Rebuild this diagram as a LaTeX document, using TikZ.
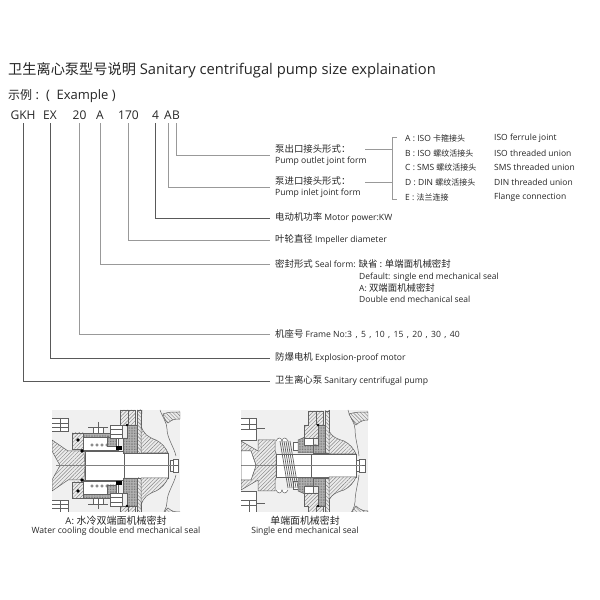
\documentclass[tikz,border=0pt]{standalone}
\usepackage{fontspec}
\setmainfont{Open Sans}
\newfontfamily\cjk{Noto Sans CJK SC}
\newcommand{\zh}[2][9.4]{{\fontsize{#1}{#1}\cjk #2}}
\usetikzlibrary{patterns.meta}
\definecolor{lnA}{gray}{0.35}
\definecolor{lnB}{gray}{0.6}
\definecolor{txt}{gray}{0.15}
\tikzset{
 x=1pt,y=1pt,
 codetok/.style={inner sep=0pt,text=txt,font=\fontsize{12}{12}\selectfont,anchor=base,text height=8pt,text depth=0pt},
 lbl/.style={inner sep=0pt,anchor=west,text=txt,align=left,font=\fontsize{8.6}{10.5}\selectfont},
 opt/.style={inner sep=0pt,anchor=west,text=txt,font=\fontsize{8.5}{8.5}\selectfont},
 lead/.style={draw=lnB,line width=0.7pt,shorten >=5pt},
 leadk/.style={draw=lnA,line width=0.7pt,shorten >=5pt},
 brk/.style={draw=lnB,line width=0.6pt},
 part/.style={draw=black!62,line width=0.5pt},
 hat/.style={part,preaction={fill=black!8},pattern={Lines[angle=45,distance=2.6pt,line width=.4pt]},pattern color=black!50},
 hatb/.style={part,preaction={fill=black!8},pattern={Lines[angle=-45,distance=2.6pt,line width=.4pt]},pattern color=black!50},
 dotted part/.style={part,preaction={fill=black!30},pattern={Dots[distance=1.6pt,radius=.35pt]},pattern color=black!70},
 panel/.style={fill=black!6,draw=none},
 captxt/.style={inner sep=0pt,text=txt,font=\fontsize{8.6}{9}\selectfont},
 axis line/.style={draw=black!50,line width=.4pt},
 topview/.style={yshift=600pt,yscale=-1},
 botview/.style={yshift=-331pt},
}
% upper half of seal A, in image coordinates (y measured downwards)
\newcommand{\halfA}{
 \draw[part,fill=white] (52,418) -- (68,418) -- (68,431) -- (52,431);
 \draw[part,line width=.9pt] (52,423)--(68,423) (52,427)--(68,427);
 \draw[part] (60,418)--(60,431);
 \draw[hat] (52,440) -- (68,451) -- (84,451) -- (85,465.5) -- (60,465.5) -- (52,451) --cycle;
 \draw[part,fill=white] (85,451) rectangle (124,465.5);
 \draw[part,fill=white] (124,453) rectangle (168,465.5);
 \draw[part,line width=.9pt] (82,451) -- (118,451);
 \draw[dotted part] (72,433) rectangle (118,437);
 \draw[part,fill=white] (83,437) rectangle (118,450);
 \draw[hat] (72,433) rectangle (83,449);
 \foreach \i in {0,1,2,3} \draw[part,fill=white] (\i*5+92,445) circle (1.3);
 \fill[black] (78,440) circle (1.8) (82,451) circle (1.8);
 \draw[dotted part] (107,437) rectangle (116,446);
 \fill[black] (116,446) rectangle (122,450);
 \draw[part,fill=white] (93,427) rectangle (103,433);
 \draw[part] (88,427)--(108,427) (98,422)--(98,433);
 \draw[part,fill=white] (110,425) rectangle (122,438);
 \draw[part,line width=.8pt] (110,429)--(122,429) (110,434)--(122,434);
 \draw[hat] (120,410) -- (120,425) -- (127,425) -- (127,445) -- (135,445) -- (135,410) --cycle;
 \draw[part] (128,410) -- (128,425);
 \draw[dotted part] (123,438) -- (127,438) -- (127,425) -- (137,425) -- (137,453) -- (123,453) --cycle;
 \draw[hatb] (137,410) rectangle (141,453);
 \draw[hat] (141,425) .. controls (143,434) and (148,437) .. (156,440) .. controls (162,443) and (166,448) .. (168,453) -- (141,453) --cycle;
 \draw[part] (142,410) -- (141,425);
 \fill[black] (127,425) circle (1.4);
 \draw[part] (160,410) .. controls (163,418) and (167,423) .. (167,429) .. controls (167,438) and (174,447) .. (176,456);
 \draw[hatb] (180,412) .. controls (172,412) and (168,412) .. (163,414) .. controls (164,418) and (166,422) .. (168,423) .. controls (172,419) and (176,419) .. (180,419) --cycle;
 \draw[part,fill=white] (170,460) rectangle (173,465.5);
 \draw[part,fill=white] (173,459) rectangle (178,465.5);
 \draw[axis line] (56,465.5) -- (174,465.5);
}
% upper half of seal B
\newcommand{\halfB}{
 \draw[part,fill=white] (241,418) -- (256,418) -- (256,440) -- (241,440);
 \draw[part,line width=1pt] (241,430)--(256,430) (241,425)--(256,425);
 \draw[part] (249,418)--(249,430) (256,428)--(265,428);
 \draw[hat] (241,441) -- (258,451) -- (258,440) -- (275,440) -- (275,451) -- (276,453) -- (276,465.5) -- (256,465.5) -- (251,451) -- (241,451) --cycle;
 \draw[part,fill=white] (241,451) -- (251,451) -- (256,465.5) -- (241,465.5) --cycle;
 \draw[part,fill=white] (276,454) rectangle (311,465.5);
 \draw[part,fill=white] (311,454) rectangle (356,465.5);
 \draw[part,fill=white] (276,441) .. controls (278,437) and (281,437) .. (282,441) .. controls (283,437) and (286,437) .. (288,441);
 \draw[part,fill=white] (293,442) rectangle (298,450);
 \draw[dotted part] (298,440) -- (305,437) -- (305,445) -- (316,445) -- (316,453) -- (298,453) --cycle;
 \draw[part,fill=white] (304,438) rectangle (313,445);
 \draw[hat] (308,411) -- (308,425) -- (304,425) -- (304,438) -- (318,438) -- (318,425) -- (323,425) -- (323,411) --cycle;
 \draw[part] (316,411)--(316,425);
 \draw[dotted part] (318,425) -- (325,425) -- (325,453) -- (313,453) -- (313,445) -- (318,445) --cycle;
 \draw[hatb] (325,411) rectangle (329,453);
 \draw[hat] (329,431) .. controls (332,437) and (337,439) .. (344,441) .. controls (350,444) and (354,449) .. (356,454) -- (329,454) --cycle;
 \draw[part] (329,410) -- (329,431);
 \fill[black] (318,425) circle (1.4);
 \draw[part] (348,410) .. controls (350,418) and (355,423) .. (355,429) .. controls (355,438) and (358,447) .. (359,456);
 \draw[hatb] (368,412) .. controls (360,412) and (355,412) .. (349,414) .. controls (351,418) and (353,421) .. (356,425) .. controls (360,421) and (364,420) .. (368,420) --cycle;
 \draw[part,fill=white] (356,460) rectangle (359,465.5);
 \draw[part,fill=white] (359,459) rectangle (365,465.5);
 \draw[axis line] (256,465.5) -- (362,465.5);
}
\begin{document}
\begin{tikzpicture}
\useasboundingbox (0,0) rectangle (600,600);
\fill[white] (0,0) rectangle (600,600);
\node[inner sep=0pt,anchor=west,text=txt,font=\fontsize{14.75}{15}\selectfont] (title) at (8,530) {\zh[14.2]{卫生离心泵型号说明} Sanitary centrifugal pump size explaination};
\node[inner sep=0pt,anchor=west,text=txt,font=\fontsize{13}{13}\selectfont] (ex) at (8,503.5) {\zh[12]{示例} :\hspace{7pt}(\ \ Example\ )};
\node[codetok] (gkh) at (23,480) {GKH};
\node[codetok] (ex2) at (50,480) {EX};
\node[codetok] (c20) at (79.5,480) {20};
\node[codetok] (ca) at (100,480) {A};
\node[codetok] (c170) at (128.5,480) {170};
\node[codetok] (c4) at (155.5,480) {4};
\node[codetok] (cAA) at (168,480) {A};
\node[codetok] (cBB) at (176,480) {B};

\node[lbl] (outlet) at (275,445) {\zh{泵出口接头形式：}\\Pump outlet joint form};
\node[lbl] (inlet) at (275,413) {\zh{泵进口接头形式：}\\Pump inlet joint form};
\node[lbl] (motor) at (275,382) {\zh{电动机功率} Motor power:KW};
\node[lbl] (imp) at (275,360) {\zh{叶轮直径} Impeller diameter};
\node[lbl] (seal) at (275,336) {\zh{密封形式} Seal form: \zh{缺省 : 单端面机械密封}};
\node[lbl,anchor=north west,font=\fontsize{8.5}{11.8}\selectfont] (sealb) at (359,327.5) {Default: single end mechanical seal\\A: \zh{双端面机械密封}\\Double end mechanical seal};
\node[lbl] (frame) at (275,266) {\zh{机座号} Frame No:{\spaceskip=3.4pt 3 , 5 , 10 , 15 , 20 , 30 , 40}};
\node[lbl] (expl) at (275,242) {\zh{防爆电机} Explosion-proof motor};
\node[lbl] (pump) at (275,219) {\zh{卫生离心泵} Sanitary centrifugal pump};

\draw[leadk] (gkh.south) ++(0,-3pt) |- (pump.west);
\draw[leadk] (ex2.south) ++(0,-3pt) |- (expl.west);
\draw[lead] (c20.south) ++(0,-3pt) |- (frame.west);
\draw[lead] (ca.south) ++(0,-3pt) |- (seal.west);
\draw[lead] (c170.south) ++(0,-3pt) |- (imp.west);
\draw[leadk] (c4.south) ++(0,-3pt) |- (motor.west);
\draw[lead] (cAA.south) ++(0,-3pt) |- (inlet.west);
\draw[lead] (cBB.south) ++(0,-3pt) |- (outlet.west);

\node[opt] (a1) at (405,461.5) {A : ISO \zh[8]{卡箍接头}};
\node[opt] (b1) at (405,447) {B : ISO \zh[8]{螺纹活接头}};
\node[opt] (c1) at (405,432.5) {C : SMS \zh[8]{螺纹活接头}};
\node[opt] (d1) at (405,417.5) {D : DIN \zh[8]{螺纹活接头}};
\node[opt] (e1) at (405,403) {E : \zh[8]{法兰连接}};
\node[opt] (a2) at (494,461.5) {ISO ferrule joint};
\node[opt] (b2) at (494,447) {ISO threaded union};
\node[opt] (c2) at (494,432.5) {SMS threaded union};
\node[opt] (d2) at (494,417.5) {DIN threaded union};
\node[opt] (e2) at (494,403) {Flange connection};
\coordinate (bt) at (392,463);
\coordinate (bb) at (392,401);
\coordinate (ol) at (365,451);
\coordinate (il) at (365,418);
\draw[brk] (397,463) -- (bt) -- (bb) -- (397,401);
\draw[brk] (ol) -- (ol -| bt);
\draw[brk] (il) -- (il -| bt);

% drawing A
\begin{scope}
\clip (52,88) rectangle (180,190);
\fill[panel] (52,88) rectangle (180,190);
\begin{scope}[topview]\halfA\end{scope}
\begin{scope}[botview]\halfA\end{scope}
\end{scope}
\node[captxt,font=\fontsize{9.5}{10}\selectfont] (capa) at (116,79.5) {A: \zh[10]{水冷双端面机械密封}};
\node[captxt] (capa2) at (116,68.5) {Water cooling double end mechanical seal};

% drawing B
\begin{scope}
\clip (241,88) rectangle (368,190);
\fill[panel] (241,88) rectangle (368,190);
\begin{scope}[topview]\halfB\end{scope}
\begin{scope}[botview]\halfB\end{scope}
\foreach \i in {0,1,2}{
 \draw[part,line width=.7pt] (\i*4+280,159) -- (\i*4+288,112);
 \draw[part,line width=.7pt] (\i*4+282,159) -- (\i*4+290,112);
}
\end{scope}
\node[captxt] (capb) at (305,79.5) {\zh[9.9]{单端面机械密封}};
\node[captxt] (capb2) at (305,68.5) {Single end mechanical seal};
\end{tikzpicture}
\end{document}
